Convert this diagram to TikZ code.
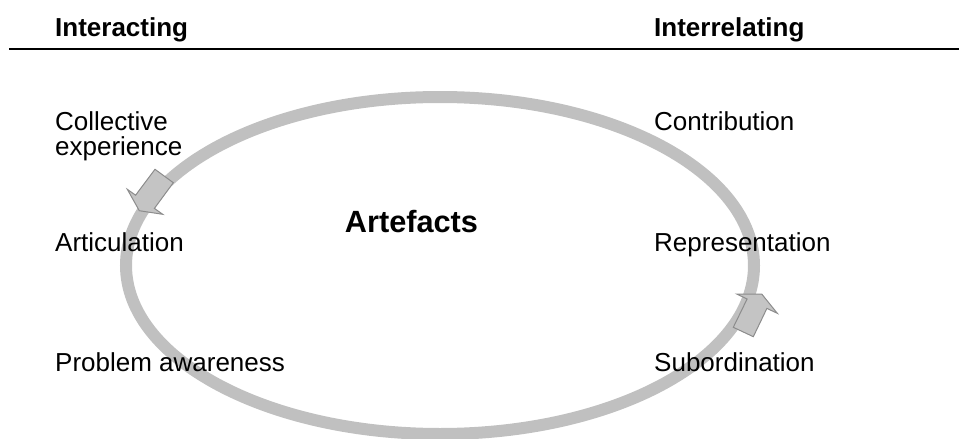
\documentclass[tikz,border=0pt]{standalone}
\usepackage{fontspec}
\setmainfont{Liberation Sans}
\definecolor{ringgray}{RGB}{192,192,192}
\definecolor{arrowfill}{RGB}{196,196,196}
\definecolor{arrowline}{RGB}{140,140,140}
\begin{document}
\begin{tikzpicture}[x=1pt,y=-1pt,
  lbl/.style={anchor=base west,inner sep=0pt,font=\fontsize{26}{28}\selectfont},
  hdr/.style={anchor=base west,inner sep=0pt,font=\fontsize{26}{28}\selectfont\bfseries},
  blockarrow/.style={fill=arrowfill,draw=arrowline,line width=1pt,line join=miter}]
\useasboundingbox (0,0) rectangle (959,439);
% header
\node[hdr] (hint) at (55,36) {Interacting};
\node[hdr] (hrel) at (654,36) {Interrelating};
\draw[line width=2.5pt] (9,49) -- (959,49);
% ring
\draw[ringgray,line width=12pt] (440,265.5) ellipse [x radius=314, y radius=168.5];
% arrows
\draw[blockarrow] (155,169.3) -- (173.3,182.7) -- (154.4,208.4) -- (162.7,214.3)
  -- (139.3,210.7) -- (127.3,189.3) -- (135.6,195.2) -- cycle;
\draw[blockarrow] (733.3,327.3) -- (747.1,299) -- (736.7,294) -- (761.7,294)
  -- (777.3,313.3) -- (766.9,308.4) -- (753.3,336.7) -- cycle;
% labels left
\node[lbl] (coll) at (55,130.7) {Collective};
\node[lbl] (exp) at (55,155) {experience};
\node[lbl] (art) at (55,251.7) {Articulation};
\node[lbl] (prob) at (55,371.7) {Problem awareness};
% labels right
\node[lbl] (contr) at (654,130.7) {Contribution};
\node[lbl] (repr) at (654,251.7) {Representation};
\node[lbl] (subo) at (654,371.7) {Subordination};
% centre
\node[anchor=base,inner sep=0pt,font=\fontsize{30.7}{33}\selectfont\bfseries] (artef) at (411.5,232) {Artefacts};
\end{tikzpicture}
\end{document}
